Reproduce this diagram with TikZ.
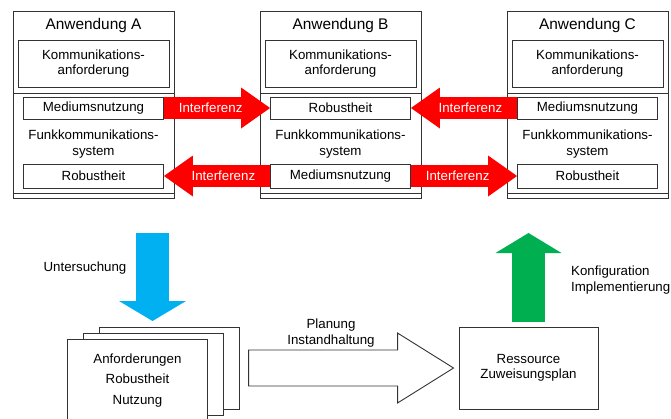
\documentclass[tikz,border=0pt]{standalone}
\usepackage{fontspec}
\setmainfont{Liberation Sans}
\usetikzlibrary{arrows.meta,positioning}

\definecolor{probeblue}{RGB}{0,176,240}
\definecolor{implgreen}{RGB}{0,176,80}

\tikzset{
  box/.style={draw=black!80, line width=0.9pt, fill=white, inner sep=0pt},
  txt/.style={font=\fontsize{13.3}{15.5}\selectfont, align=center, inner sep=0pt},
  title/.style={font=\fontsize{15.4}{18}\selectfont, inner sep=0pt},
  interf/.style={draw=red, line width=22pt,
    -{Triangle[length=29pt,width=41pt,line width=0pt]}},
  probe/.style={draw=probeblue, line width=33pt,
    -{Triangle[length=20pt,width=67pt,line width=0pt]}},
  impl/.style={draw=implgreen, line width=33pt,
    -{Triangle[length=20pt,width=66pt,line width=0pt]}},
  hollow/.style={draw=black!80, line width=0.9pt, fill=white},
  ilabel/.style={txt, text=white, pos=0.44}
}

\begin{document}
\begin{tikzpicture}[x=1pt,y=-1pt]
\useasboundingbox (0,0) rectangle (671,418);

% the three applications
\foreach \n/\ox/\rowone/\rowtwo in {A/13/Mediumsnutzung/Robustheit,
                                    B/260/Robustheit/Mediumsnutzung,
                                    C/507/Mediumsnutzung/Robustheit}{
  \node[box, minimum width=161pt, minimum height=187pt, anchor=north west] (app\n) at (\ox,11) {};
  \draw[black!80, line width=0.9pt] (\ox,93) -- ++(161,0);
  \draw[black!80, line width=0.9pt] (\ox,193) -- ++(161,0);
  \node[title] (name\n) at (\ox+80.5,26) {Anwendung \n};
  \node[box, txt, minimum width=151pt, minimum height=47pt] (komm\n) at (\ox+80.5,63.5) {Kommunikations-\\anforderung};
  \node[box, txt, minimum width=140pt, minimum height=22pt] (top\n) at (\ox+80.5,108) {\rowone};
  \node[txt] (funk\n) at (\ox+80.5,144) {Funkkommunikations-\\system};
  \node[box, txt, minimum width=140pt, minimum height=24pt] (bot\n) at (\ox+80.5,176) {\rowtwo};
}

% interference between the systems
\draw[interf] (topA.east) -- node[ilabel] {Interferenz} (topB.west);
\draw[interf] (topC.west) -- node[ilabel] {Interferenz} (topB.east);
\draw[interf] (botB.west) -- node[ilabel] {Interferenz} (botA.east);
\draw[interf] (botB.east) -- node[ilabel] {Interferenz} (botC.west);

% stack of requirement sheets
\node[box, minimum width=140pt, minimum height=82pt, anchor=north west] (docBack) at (99,327) {};
\node[box, minimum width=140pt, minimum height=82pt, anchor=north west] (docMid) at (83,333) {};
\node[box, txt, font=\fontsize{13.3}{20.5}\selectfont, minimum width=140pt, minimum height=82pt, anchor=north west] (docFront) at (67,339) {Anforderungen\\Robustheit\\Nutzung};

\node[box, txt, minimum width=139pt, minimum height=82pt] (plan) at (528.5,368) {Ressource\\Zuweisungsplan};

% analysis arrow
\coordinate (uStart) at (152.5,233);
\coordinate (uEnd) at (152.5,321);
\draw[probe] (uStart) -- (uEnd);
\node[txt] (unters) at (85,268) {Untersuchung};

% planning arrow
\coordinate (pTip) at ([xshift=-5pt]plan.west);
\draw[hollow] (pTip) -- ++(-56,-35) -- ++(0,17) -- ++(-149,0) -- ++(0,36)
  -- ++(149,0) -- ++(0,17) -- cycle;
\node[txt] (planung) at (331,333) {Planung\\Instandhaltung};

% configuration arrow
\coordinate (kEnd) at (528.5,233);
\draw[impl] ([yshift=5pt]plan.north) -- (kEnd);
\node[txt, align=left, anchor=west] (konfig) at (571,280) {Konfiguration\\Implementierung};
\end{tikzpicture}
\end{document}
